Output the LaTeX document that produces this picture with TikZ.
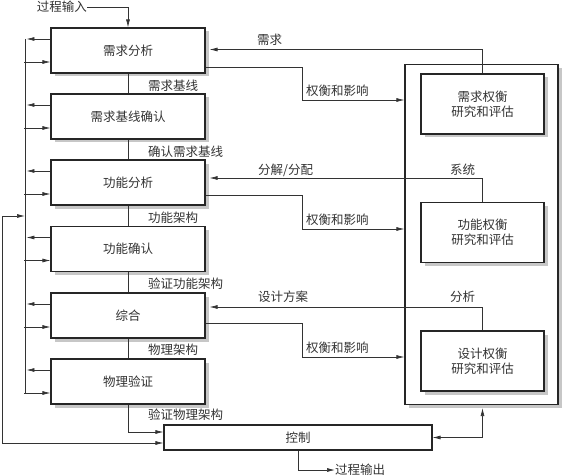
\documentclass[tikz,border=0pt]{standalone}
\usepackage{fontspec}
\setmainfont{Noto Sans CJK SC}
\usetikzlibrary{arrows.meta,shadows}
\begin{document}
\begin{tikzpicture}[x=1pt,y=-1pt,
  font=\fontsize{12.5pt}{15pt}\selectfont,
  every node/.style={text=black!80},
  shd/.style={drop shadow={shadow xshift=3.5pt,shadow yshift=-3.5pt,fill=black!22,opacity=1}},
  stepbox/.style={draw=black!85,line width=1.1pt,fill=white,minimum width=154pt,minimum height=45pt,inner sep=0pt,shd},
  tradebox/.style={draw=black!85,line width=1.1pt,fill=white,minimum width=123pt,minimum height=60pt,inner sep=0pt,align=center,shd},
  bigbox/.style={draw=black!85,line width=1.1pt,fill=white,minimum width=153pt,minimum height=340pt,inner sep=0pt,shd},
  ctrlbox/.style={draw=black!85,line width=1.1pt,fill=white,minimum width=268pt,minimum height=25pt,inner sep=0pt},
  ln/.style={draw=black!80,line width=0.7pt},
  arr/.style={ln,-{Latex[length=8pt,width=4pt]}},
  darr/.style={ln,{Latex[length=8pt,width=4pt]}-{Latex[length=8pt,width=4pt]}},
  lbl/.style={inner sep=0pt,anchor=west}
]
\useasboundingbox (0,0) rectangle (562,476);

% big box and trade boxes
\node[bigbox] (big) at (481.5,234.5) {};
\node[tradebox] (tA) at (482.5,104) {需求权衡\\研究和评估};
\node[tradebox] (tB) at (482.5,232.5) {功能权衡\\研究和评估};
\node[tradebox] (tC) at (482.5,361) {设计权衡\\研究和评估};

% left column
\node[stepbox] (b1) at (128,50.5) {需求分析};
\node[stepbox] (b2) at (128,116.5) {需求基线确认};
\node[stepbox] (b3) at (128,182.5) {功能分析};
\node[stepbox] (b4) at (128,249) {功能确认};
\node[stepbox] (b5) at (128,315.5) {综合};
\node[stepbox] (b6) at (128,381.5) {物理验证};

\node[ctrlbox] (ctrl) at (298,437.5) {控制};

% input / output
\node[lbl,anchor=east] (pin) at (87,7) {过程输入};
\draw[arr] (pin.east) -| (b1.north);
\node[lbl] (pout) at (335,470) {过程输出};
\draw[arr] (ctrl.south) |- (pout.west);

% vertical chain
\draw[ln] (b1.south) -- (b2.north);
\draw[ln] (b2.south) -- (b3.north);
\draw[ln] (b3.south) -- (b4.north);
\draw[ln] (b4.south) -- (b5.north);
\draw[ln] (b5.south) -- (b6.north);
\draw[arr] (b6.south) |- ([yshift=5.5pt]ctrl.west);
\node[lbl] (l1) at (148,86) {需求基线};
\node[lbl] (l2) at (148,152) {确认需求基线};
\node[lbl] (l3) at (148,218) {功能架构};
\node[lbl] (l4) at (148,284) {验证功能架构};
\node[lbl] (l5) at (148,350) {物理架构};
\node[lbl] (l6) at (148,415) {验证物理架构};

% left bus
\coordinate (bustop) at (25,39);
\coordinate (busbot) at (25,393);
\draw[ln] (bustop) -- (busbot);
\foreach \b in {b1,b2,b3,b4,b5,b6}{
  \draw[arr] ([yshift=11.5pt]\b.west) -- ++(-24,0);
  \draw[arr] ([yshift=-11.5pt]\b.west) ++(-26,0) -- ([yshift=-11.5pt]\b.west);
}
\coordinate (fb) at (25,216);
\draw[darr] (fb) -- (2,216) -- (2,443) -- ([yshift=-5.5pt]ctrl.west);

% control to big box
\draw[darr] (ctrl.east) -| ([yshift=-3pt]big.south -| tA.north);

% feedback from trade boxes
\draw[arr] (tA.north) |- ([xshift=4pt,yshift=1pt]b1.east);
\draw[arr] (tB.north) |- ([xshift=4pt,yshift=4.5pt]b3.east);
\draw[arr] (tC.north) |- ([xshift=4pt,yshift=8.5pt]b5.east);
\node[lbl] (r1) at (257,40) {需求};
\node[lbl] (r2) at (258,170) {分解/分配};
\node[lbl] (r3) at (450,170) {系统};
\node[lbl] (r4) at (258,297) {设计方案};
\node[lbl] (r5) at (450,297) {分析};

% trade-off flows
\draw[arr] ([yshift=-16.5pt]b1.east) -- (302,67) |- (big.west |- 0,100);
\draw[arr] ([yshift=-12.5pt]b3.east) -- (302,195) |- (big.west |- 0,229);
\draw[arr] ([yshift=-7.5pt]b5.east) -- (302,323) |- (big.west |- 0,357);
\node[lbl] (t1) at (306,91) {权衡和影响};
\node[lbl] (t2) at (306,220) {权衡和影响};
\node[lbl] (t3) at (306,348) {权衡和影响};
\end{tikzpicture}
\end{document}
